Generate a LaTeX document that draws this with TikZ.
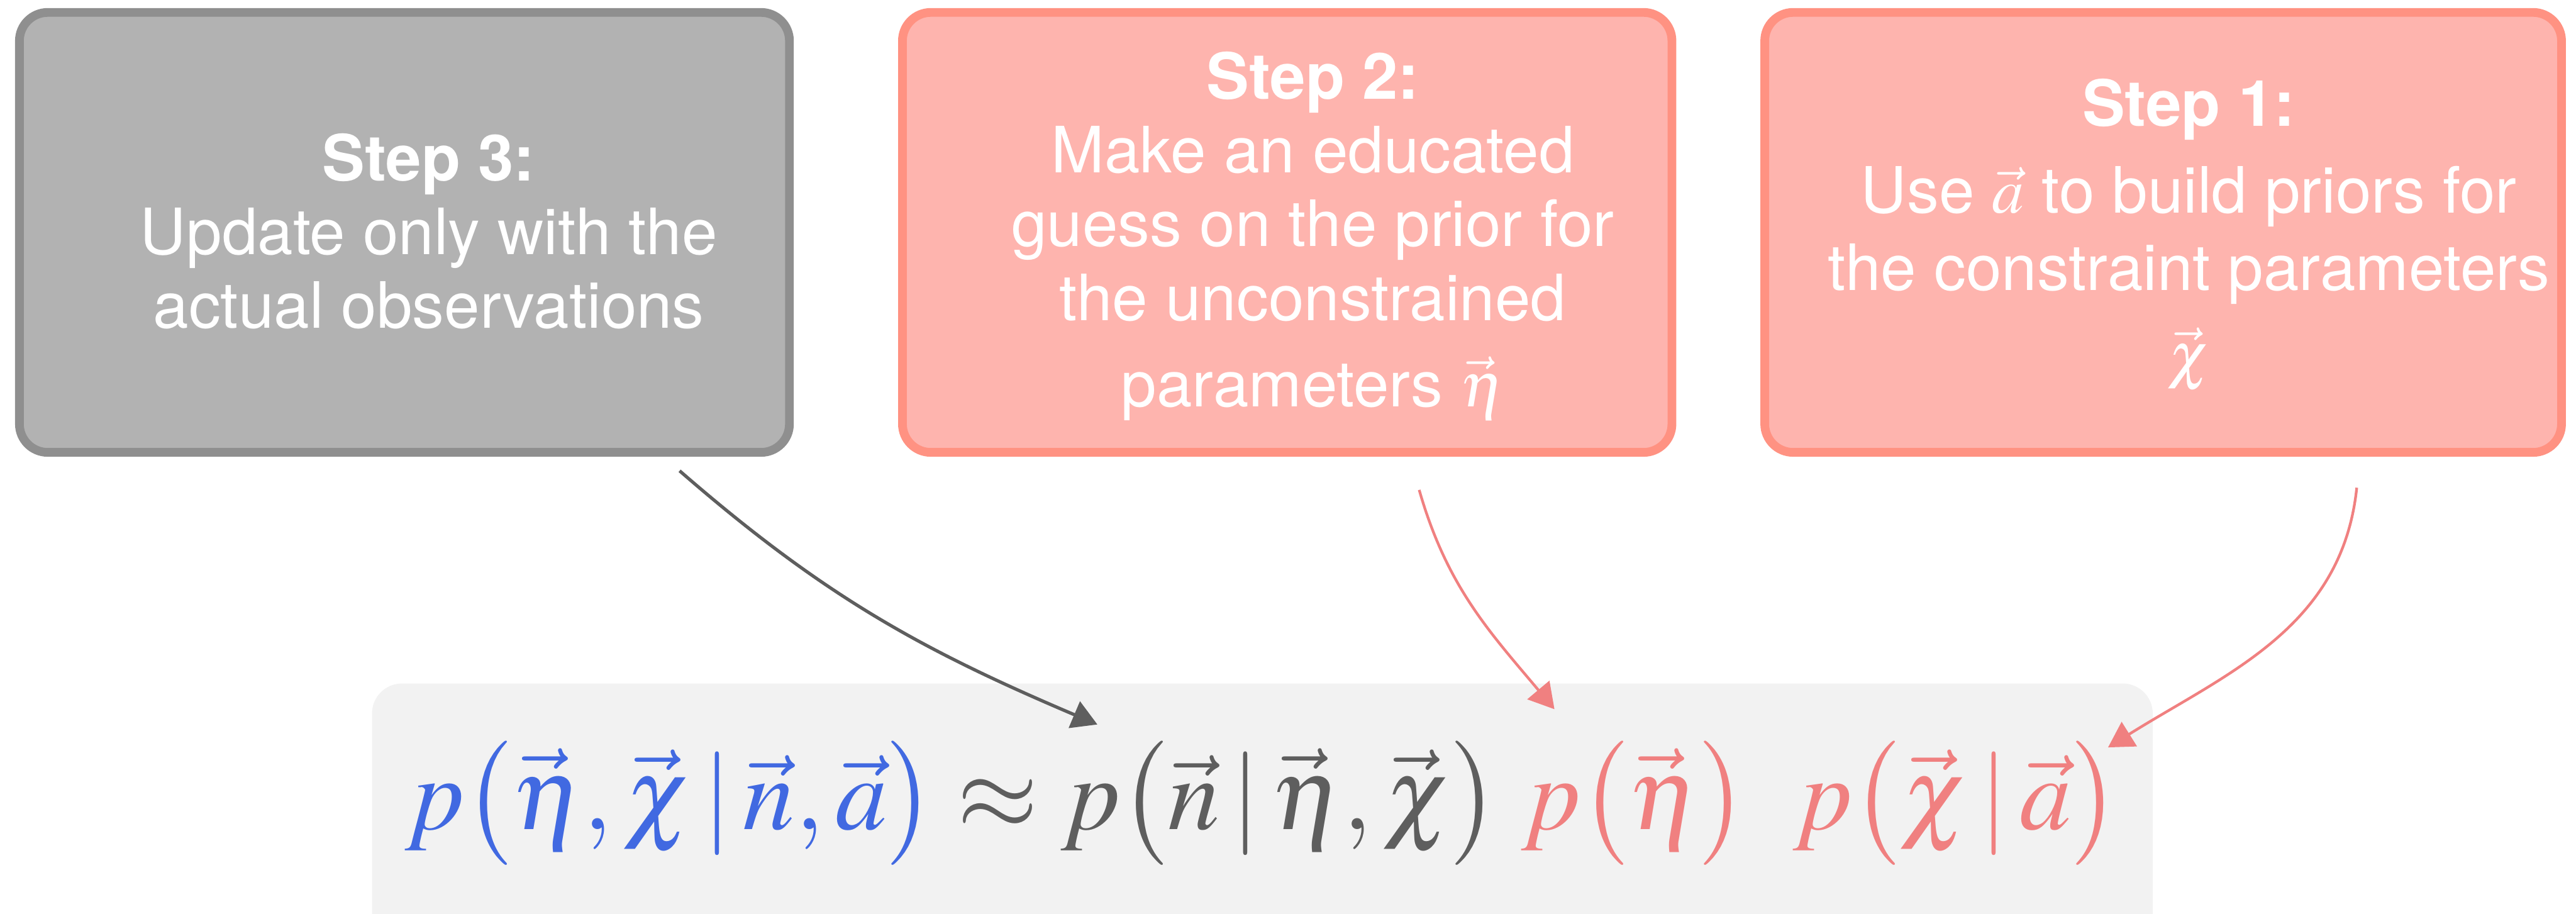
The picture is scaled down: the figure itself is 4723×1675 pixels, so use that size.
\documentclass[tikz,border=0pt]{standalone}
\usepackage{mathptmx}
\usepackage{fontspec}
\setmainfont{TeX Gyre Heros}
\usetikzlibrary{arrows.meta}
\definecolor{grayfill}{HTML}{B2B2B2}
\definecolor{grayline}{HTML}{8F8F8F}
\definecolor{pinkfill}{HTML}{FEB4AE}
\definecolor{pinkline}{HTML}{FF9282}
\definecolor{formbg}{HTML}{F2F2F2}
\definecolor{eqblue}{HTML}{4169E1}
\definecolor{eqgray}{HTML}{5E5E5E}
\definecolor{eqpink}{HTML}{F08080}
\newcommand\myboxfont{\fontsize{33.3}{38.4}\selectfont\lineskiplimit-1000pt\relax\lineskip0pt\relax}
\tikzset{
  stepbox/.style={rectangle, rounded corners=0.52cm, line width=0.16cm, inner sep=0pt, minimum height=8.06cm},
  graybox/.style={stepbox, draw=grayline, fill=grayfill},
  pinkbox/.style={stepbox, draw=pinkline, fill=pinkfill},
  txt/.style={text=white, font=\myboxfont, align=center, anchor=base, inner sep=0pt},
  garrow/.style={draw=eqgray, line width=1.7pt, -{Triangle[length=0.46cm,width=0.52cm]}},
  parrow/.style={draw=eqpink, line width=1.4pt, -{Triangle[length=0.46cm,width=0.52cm]}}
}
\begin{document}
\begin{tikzpicture}[x=0.01cm,y=0.01cm]
\useasboundingbox (0,0) rectangle (4723,-1675);
\clip (0,0) rectangle (4723,-1675);
% boxes
\node[graybox, minimum width=14.11cm] (b3) at (741.5,-426) {};
\node[pinkbox, minimum width=14.10cm] (b2) at (2360,-426) {};
\node[pinkbox, minimum width=14.60cm] (b1) at (3966,-426) {};
% box texts (anchored at the baseline of their last line)
\node[txt] (t3) at (786,-601) {\bfseries Step 3:\\Update only with the\\actual observations};
\node[txt] (t2) at (2407,-745) {\bfseries Step 2:\\Make an educated\\guess on the prior for\\the unconstrained\\[0.23cm]parameters $\vec{\eta}$};
\node[txt] (t1) at (4013,-690) {\bfseries Step 1:\\[0.24cm]Use $\vec{a}$ to build priors for\\[0.07cm]the constraint parameters\\[0.23cm]$\vec{\chi}$};
% formula box
\node[rectangle, rounded corners=0.55cm, fill=formbg, inner sep=0pt, minimum width=32.63cm, minimum height=5.2cm] (fbox) at (2314.5,-1513) {};
\node[anchor=base, inner sep=0pt, font=\fontsize{54}{60}\selectfont] (eq) at (2314,-1520)
 {${\color{eqblue}p\bigl(\vec\eta,\vec\chi\,|\,\vec n,\vec a\bigr)}
  \mathrel{\color{eqgray}\approx}
  {\color{eqgray}p\bigl(\vec n\,|\,\vec\eta,\vec\chi\bigr)}\;
  {\color{eqpink}p\bigl(\vec\eta\bigr)}\;\;
  {\color{eqpink}p\bigl(\vec\chi\,|\,\vec a\bigr)}$};
% arrows
\coordinate (g0) at (1246,-863);
\coordinate (g1) at (2012,-1328);
\coordinate (p20) at (2602,-898);
\coordinate (p21) at (2850,-1300);
\coordinate (p30) at (4321,-894);
\coordinate (p31) at (3865,-1370);
\draw[garrow] (g0) to[out=-41,in=157] (g1);
\draw[parrow] (p20) to[out=-74,in=130] (p21);
\draw[parrow] (p30) to[out=-96,in=32] (p31);
\end{tikzpicture}
\end{document}
